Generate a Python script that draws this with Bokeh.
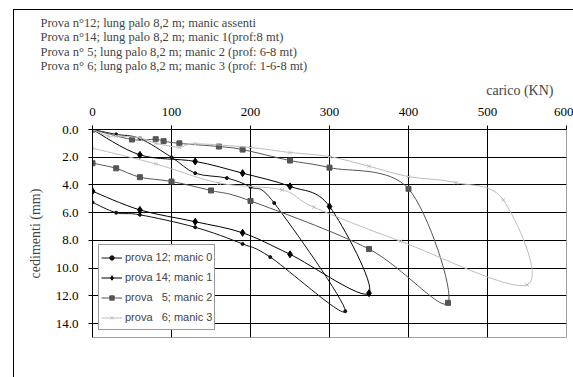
import numpy as np
from bokeh.plotting import figure
from bokeh.models import (Range1d, FixedTicker, NumeralTickFormatter, Legend,
                          LegendItem, Title)
from bokeh.embed import file_html
from bokeh.resources import INLINE

# ---------------- data ----------------
x_ticks = [0, 100, 200, 300, 400, 500, 600]
x_grid = [100, 200, 300, 400, 500]
y_ticks = [0, 2, 4, 6, 8, 10, 12, 14]

title_lines = [
    "Prova n°12; lung palo 8,2 m; manic assenti",
    "Prova n°14; lung palo 8,2 m; manic 1(prof:8 mt)",
    "Prova n° 5; lung palo 8,2 m; manic 2 (prof: 6-8 mt)",
    "Prova n° 6; lung palo 8,2 m; manic 3 (prof: 1-6-8 mt)",
]

names = ["prova 12; manic 0", "prova 14; manic 1",
         "prova\u00a0\u00a0 5; manic 2", "prova\u00a0\u00a0 6; manic 3"]

p12_x = [0, 30, 60, 100, 130, 170, 200, 230, 320, 225, 190, 130, 60, 30, 0]
p12_y = [0, 0.35, 0.65, 2.0, 3.15, 3.5, 4.15, 5.3, 13.1, 9.2, 8.25, 7.05, 6.15, 6.0, 5.25]

p14_x = [0, 60, 130, 190, 250, 300, 350, 250, 190, 130, 60, 0]
p14_y = [0, 1.83, 2.3, 3.15, 4.1, 5.55, 11.8, 9.0, 7.45, 6.65, 5.8, 4.45]

p5_x = [0, 50, 80, 90, 110, 160, 190, 250, 300, 400, 450, 350, 200, 150, 100, 60, 30, 0]
p5_y = [0, 0.72, 0.7, 0.84, 1.0, 1.23, 1.45, 2.24, 2.75, 4.28, 12.5, 8.62, 5.15, 4.4, 3.75, 3.44, 2.8, 2.43]

p6_x = [0, 20, 30, 60, 80, 110, 130, 200, 250, 300, 350, 400, 460, 520, 550, 390, 280, 240, 160, 80, 0]
p6_y = [0, 0.48, 0.48, 0.6, 0.99, 1.28, 1.03, 1.3, 1.66, 1.95, 2.65, 3.4, 3.83, 5.08, 11.2, 8.06, 5.6, 4.35, 3.86, 2.48, 1.35]

series = [
    (p12_x, p12_y, "#111111", "circle", 3, names[0]),
    (p14_x, p14_y, "#000000", "diamond", 7, names[1]),
    (p5_x, p5_y, "#555555", "square", 5, names[2]),
    (p6_x, p6_y, "#bdbdbd", "x", 5, names[3]),
]

SERIF = "Liberation Serif"
SANS = "Liberation Sans"


def smooth_segments(xs, ys):
    """Bezier control points for a smoothed line through the points."""
    P = np.column_stack([xs, ys]).astype(float)
    prev = np.vstack([P[:1], P[:-1]])
    nxt = np.vstack([P[1:], P[-1:]])
    T = (nxt - prev) / 6.0
    return dict(
        x0=P[:-1, 0], y0=P[:-1, 1], x1=P[1:, 0], y1=P[1:, 1],
        cx0=P[:-1, 0] + T[:-1, 0], cy0=P[:-1, 1] + T[:-1, 1],
        cx1=P[1:, 0] - T[1:, 0], cy1=P[1:, 1] - T[1:, 1],
    )


p = figure(frame_width=474, frame_height=208,
           x_range=Range1d(0, 600), y_range=Range1d(15, 0),
           x_axis_location="above",
           min_border_left=78, min_border_right=7,
           min_border_top=119, min_border_bottom=40,
           output_backend="svg", toolbar_location=None)
p.margin = (9, 0, 0, 13)
p.styles = {"border-left": "1px solid #000000", "border-top": "1px solid #000000"}

p.outline_line_color = "#a0a0a0"
p.outline_line_width = 1
p.background_fill_color = "white"
p.border_fill_color = "white"

# axes
p.xaxis.ticker = FixedTicker(ticks=x_ticks)
p.yaxis.ticker = FixedTicker(ticks=y_ticks)
p.yaxis.formatter = NumeralTickFormatter(format="0.0")
for ax in (p.xaxis[0], p.yaxis[0]):
    ax.axis_line_color = "#000000"
    ax.major_tick_line_color = "#000000"
    ax.minor_tick_line_color = None
    ax.major_label_text_font = SERIF
    ax.major_label_text_font_size = "13px"
    ax.major_label_text_color = "#000000"
p.xaxis.major_tick_out = 4
p.xaxis.major_tick_in = 0
p.xaxis.major_label_standoff = 10
p.yaxis.major_tick_out = 4
p.yaxis.major_tick_in = 3
p.yaxis.major_label_standoff = 10
p.yaxis.axis_label = "cedimenti (mm)"
p.yaxis.axis_label_text_font = SERIF
p.yaxis.axis_label_text_font_size = "14px"
p.yaxis.axis_label_text_font_style = "normal"
p.yaxis.axis_label_standoff = 10

# grid
p.xgrid.ticker = FixedTicker(ticks=x_grid)
p.ygrid.ticker = FixedTicker(ticks=y_ticks)
p.xgrid.grid_line_color = "#000000"
p.ygrid.grid_line_color = "#000000"
p.xgrid.grid_line_alpha = 1
p.ygrid.grid_line_alpha = 1

# titles (stacked above the axis; first added is nearest the plot)
t_axis = Title(text="carico (KN)", align="right", offset=13,
               text_font=SERIF, text_font_size="14px",
               text_font_style="normal", standoff=14)
p.add_layout(t_axis, "above")
t_main = Title(text="\n".join(title_lines), align="left", offset=-52,
               text_font=SERIF, text_font_size="12.5px",
               text_font_style="normal", text_line_height=1.04,
               standoff=0)
p.add_layout(t_main, "above")

# series
items = []
for xs, ys, color, marker, size, name in series:
    seg = smooth_segments(xs, ys)
    r_line = p.bezier(source=seg, x0="x0", y0="y0", x1="x1", y1="y1",
                      cx0="cx0", cy0="cy0", cx1="cx1", cy1="cy1",
                      line_color=color, line_width=1)
    r_pts = p.scatter(xs, ys, marker=marker, size=size,
                      line_color=color, fill_color=color, line_width=1)
    items.append(LegendItem(label=name, renderers=[r_line, r_pts]))

legend = Legend(items=items, location=(6, 7))
legend.border_line_color = "#333333"
legend.border_line_width = 1
legend.background_fill_color = "white"
legend.background_fill_alpha = 1
legend.label_text_font = SANS
legend.label_text_font_size = "11px"
legend.glyph_width = 21
legend.glyph_height = 11
legend.label_height = 20
legend.label_standoff = 3
legend.spacing = 0
legend.padding = 2
legend.margin = 0
p.add_layout(legend)

open("out.html", "w").write(file_html(p, INLINE))
